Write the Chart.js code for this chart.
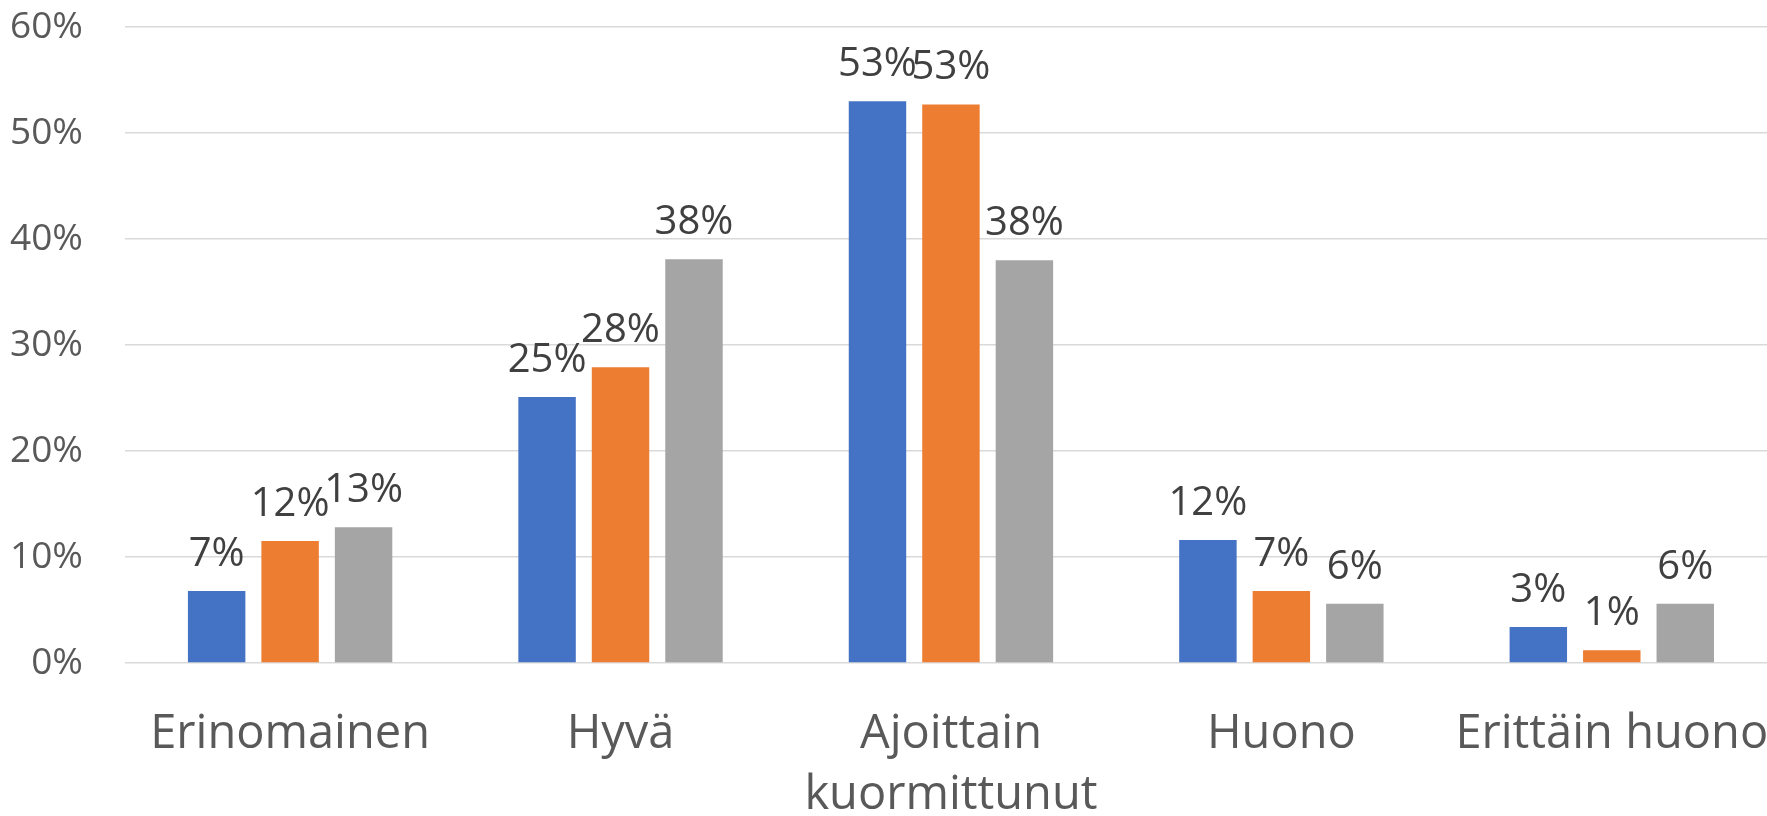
<!DOCTYPE html>
<html>
<head>
<meta charset="utf-8">
<script src="https://cdn.jsdelivr.net/npm/chart.js@4"></script>
<style>
html,body{margin:0;padding:0;background:#fff;overflow:hidden;}
#wrap{width:1777px;height:816px;position:relative;}
</style>
</head>
<body>
<div id="wrap"><canvas id="c"></canvas></div>
<script>
const categories = ['Erinomainen', 'Hyvä', ['Ajoittain', 'kuormittunut'], 'Huono', 'Erittäin huono'];
const seriesA = [6.8, 25.1, 53.0, 11.6, 3.4];
const seriesB = [11.5, 27.9, 52.7, 6.8, 1.2];
const seriesC = [12.8, 38.1, 38.0, 5.6, 5.6];
const yTicks = [0, 10, 20, 30, 40, 50, 60];

const FONT = '"Open Sans", "Noto Sans", sans-serif';

const valueLabels = {
  id: 'valueLabels',
  afterDatasetsDraw(chart) {
    const ctx = chart.ctx;
    ctx.save();
    ctx.font = '40px ' + FONT;
    ctx.fillStyle = '#404040';
    ctx.textAlign = 'center';
    ctx.textBaseline = 'alphabetic';
    chart.data.datasets.forEach((ds, i) => {
      const meta = chart.getDatasetMeta(i);
      meta.data.forEach((bar, j) => {
        ctx.fillText(Math.round(ds.data[j]) + '%', bar.x, bar.y - 25);
      });
    });
    ctx.restore();
  }
};

new Chart(document.getElementById('c'), {
  type: 'bar',
  data: {
    labels: categories,
    datasets: [
      { label: 'A', data: seriesA, backgroundColor: '#4472C4' },
      { label: 'B', data: seriesB, backgroundColor: '#ED7D31' },
      { label: 'C', data: seriesC, backgroundColor: '#A5A5A5' }
    ]
  },
  options: {
    responsive: true,
    maintainAspectRatio: false,
    animation: false,
    datasets: { bar: { categoryPercentage: 0.667, barPercentage: 0.782 } },
    layout: { padding: { left: 10, right: 0, top: 27, bottom: 0 } },
    plugins: { legend: { display: false }, tooltip: { enabled: false } },
    scales: {
      x: {
        grid: { display: false, drawTicks: true, tickLength: 41 },
        border: { display: false },
        afterFit(scale) {
          scale.height = 153;
          scale.paddingLeft = 0;
          scale.paddingRight = 0;
        },
        ticks: {
          color: '#595959',
          font: { family: FONT, size: 47, lineHeight: 1.3 },
          padding: 0,
          maxRotation: 0,
          autoSkip: false
        }
      },
      y: {
        min: 0, max: 60,
        afterBuildTicks(scale) { scale.ticks = yTicks.map(v => ({ value: v })); },
        grid: { color: '#D9D9D9', lineWidth: 1.5, drawTicks: true, tickLength: 42, tickColor: 'rgba(0,0,0,0)' },
        border: { display: false },
        ticks: {
          color: '#595959',
          font: { family: FONT, size: 37 },
          padding: 0,
          callback: v => v + '%'
        }
      }
    }
  },
  plugins: [valueLabels]
});
</script>
</body>
</html>
